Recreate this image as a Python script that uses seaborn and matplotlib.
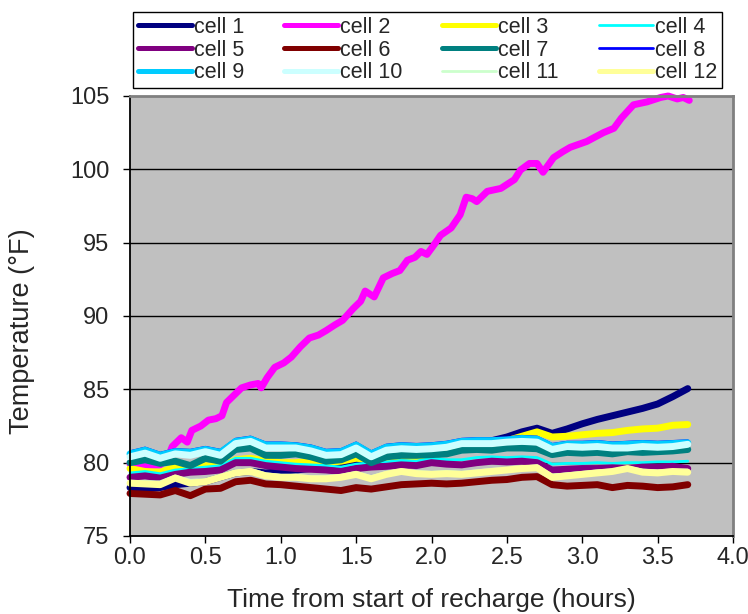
import matplotlib
matplotlib.use("Agg")
import matplotlib.pyplot as plt
import numpy as np
import pandas as pd
import seaborn as sns

# Sampling times (hours) shared by the cells that stay near ambient
hours = [0.0, 0.1, 0.2, 0.3, 0.4, 0.5, 0.6, 0.7, 0.8, 0.9,
         1.0, 1.1, 1.2, 1.3, 1.4, 1.5, 1.6, 1.7, 1.8, 1.9,
         2.0, 2.1, 2.2, 2.3, 2.4, 2.5, 2.6, 2.7, 2.8, 2.9,
         3.0, 3.1, 3.2, 3.3, 3.4, 3.5, 3.6, 3.7]

cell1 = [78.3, 78.2, 78.3, 78.5, 78.6, 78.7, 79.0, 79.3, 79.4, 79.3,
         79.4, 79.5, 79.6, 79.7, 79.8, 79.9, 80.0, 80.3, 80.35, 80.3,
         80.5, 80.7, 81.0, 81.3, 81.5, 81.75, 82.1, 82.35, 82.0, 82.3,
         82.65, 82.95, 83.2, 83.45, 83.7, 84.0, 84.5, 85.05]
cell3 = [79.6, 79.4, 79.35, 79.7, 79.5, 79.8, 79.7, 80.2, 80.3, 80.1,
         80.0, 80.0, 80.1, 80.0, 80.1, 80.3, 80.2, 80.3, 80.45, 80.4,
         80.5, 80.7, 80.95, 81.1, 81.3, 81.5, 81.8, 82.1, 81.75, 81.8,
         81.9, 82.0, 82.05, 82.2, 82.3, 82.35, 82.55, 82.6]
cell4 = [79.3, 79.4, 79.25, 79.5, 79.6, 79.7, 79.8, 80.3, 80.3, 80.1,
         80.0, 79.9, 79.85, 79.8, 79.7, 79.9, 80.0, 80.05, 80.15, 80.1,
         80.3, 80.2, 80.2, 80.35, 80.4, 80.35, 80.4, 80.35, 79.9, 79.95,
         79.95, 80.0, 79.95, 80.0, 80.0, 80.05, 80.05, 80.1]
cell5 = [79.0, 79.1, 78.95, 79.2, 79.35, 79.4, 79.5, 80.0, 80.0, 79.8,
         79.7, 79.6, 79.55, 79.5, 79.4, 79.6, 79.7, 79.75, 79.85, 79.8,
         80.0, 79.9, 79.85, 80.0, 80.1, 80.05, 80.1, 80.0, 79.5, 79.55,
         79.6, 79.6, 79.65, 79.6, 79.7, 79.7, 79.75, 79.6]
cell6 = [77.9, 77.85, 77.8, 78.1, 77.75, 78.2, 78.25, 78.7, 78.8, 78.55,
         78.5, 78.4, 78.3, 78.2, 78.1, 78.3, 78.2, 78.35, 78.5, 78.55,
         78.6, 78.55, 78.6, 78.7, 78.8, 78.85, 79.0, 79.05, 78.5, 78.4,
         78.45, 78.5, 78.3, 78.45, 78.4, 78.3, 78.35, 78.5]
cell7 = [80.0, 80.2, 79.95, 80.1, 79.8, 80.3, 80.1, 80.9, 81.0, 80.5,
         80.5, 80.6, 80.4, 80.1, 80.2, 80.6, 80.0, 80.4, 80.5, 80.5,
         80.55, 80.6, 80.85, 80.9, 80.85, 81.0, 81.0, 80.95, 80.55, 80.7,
         80.65, 80.7, 80.6, 80.75, 80.7, 80.75, 80.8, 80.9]
cell8 = [80.75, 81.0, 80.65, 80.9, 80.85, 81.05, 80.85, 81.6, 81.75, 81.35,
         81.35, 81.3, 81.15, 80.85, 80.9, 81.35, 80.75, 81.2, 81.3, 81.25,
         81.3, 81.4, 81.6, 81.65, 81.65, 81.7, 81.8, 81.75, 81.25, 81.4,
         81.4, 81.45, 81.35, 81.4, 81.45, 81.4, 81.45, 81.5]
cell9 = [80.6, 80.85, 80.5, 80.75, 80.7, 80.9, 80.7, 81.45, 81.6, 81.2,
         81.2, 81.15, 81.0, 80.7, 80.75, 81.2, 80.6, 81.05, 81.15, 81.1,
         81.15, 81.25, 81.45, 81.5, 81.5, 81.55, 81.65, 81.6, 81.1, 81.25,
         81.25, 81.3, 81.2, 81.25, 81.3, 81.25, 81.3, 81.35]
cell10 = [80.4, 80.65, 80.3, 80.6, 80.5, 80.75, 80.5, 81.3, 81.45, 81.0,
          81.0, 81.0, 80.8, 80.5, 80.55, 81.0, 80.4, 80.85, 80.95, 80.9,
          80.95, 81.05, 81.3, 81.3, 81.3, 81.4, 81.45, 81.4, 80.9, 81.1,
          81.05, 81.1, 81.0, 81.0, 81.1, 81.05, 81.1, 81.25]
cell11 = [78.75, 78.7, 78.7, 79.1, 78.8, 78.85, 79.15, 79.45, 79.55, 79.25,
          79.15, 79.15, 79.05, 79.05, 79.15, 79.35, 79.05, 79.35, 79.5, 79.4,
          79.35, 79.4, 79.35, 79.45, 79.55, 79.6, 79.7, 79.8, 79.15, 79.25,
          79.35, 79.45, 79.5, 79.7, 79.5, 79.45, 79.5, 79.5]
cell12 = [78.6, 78.55, 78.5, 78.95, 78.6, 78.7, 79.0, 79.3, 79.4, 79.1,
          79.0, 79.0, 78.9, 78.9, 79.0, 79.2, 78.9, 79.2, 79.4, 79.25,
          79.2, 79.25, 79.2, 79.3, 79.4, 79.5, 79.6, 79.65, 79.0, 79.1,
          79.2, 79.3, 79.4, 79.6, 79.35, 79.3, 79.4, 79.35]

# Cell 2 runs away thermally, so it is logged on its own time base
hours2 = [0.0, 0.1, 0.2, 0.25, 0.28, 0.34, 0.38, 0.41, 0.47, 0.52,
          0.57, 0.61, 0.64, 0.69, 0.74, 0.8, 0.85, 0.87, 0.91, 0.96,
          1.02, 1.07, 1.13, 1.19, 1.25, 1.30, 1.36, 1.41, 1.48, 1.53,
          1.56, 1.62, 1.68, 1.74, 1.79, 1.84, 1.89, 1.93, 1.97, 2.02,
          2.06, 2.13, 2.19, 2.23, 2.27, 2.30, 2.37, 2.46, 2.55, 2.59,
          2.65, 2.70, 2.74, 2.81, 2.87, 2.92, 3.03, 3.14, 3.21, 3.26,
          3.34, 3.43, 3.52, 3.57, 3.63, 3.67, 3.71]
cell2 = [79.9, 79.8, 79.85, 80.3, 81.1, 81.7, 81.4, 82.2, 82.5, 82.9,
         83.0, 83.2, 84.1, 84.6, 85.1, 85.3, 85.4, 85.1, 85.8, 86.5,
         86.8, 87.2, 87.9, 88.5, 88.7, 89.0, 89.4, 89.7, 90.5, 91.0,
         91.7, 91.3, 92.6, 92.9, 93.1, 93.8, 94.0, 94.4, 94.2, 94.9,
         95.5, 96.0, 96.9, 98.1, 98.0, 97.8, 98.5, 98.7, 99.3, 99.95,
         100.4, 100.4, 99.8, 100.8, 101.2, 101.5, 101.9, 102.5, 102.8, 103.5,
         104.4, 104.6, 104.9, 105.0, 104.8, 104.9, 104.7]

cell_names = ["cell 1", "cell 2", "cell 3", "cell 4", "cell 5", "cell 6",
              "cell 7", "cell 8", "cell 9", "cell 10", "cell 11", "cell 12"]
cell_colors = ["#000080", "#FF00FF", "#FFFF00", "#00FFFF", "#800080", "#800000",
               "#008080", "#0000FF", "#00CCFF", "#CCFFFF", "#CCFFCC", "#FFFF99"]
thick = [True, True, True, False, True, True, True, False, True, True, False, True]

x_ticks = [0.0, 0.5, 1.0, 1.5, 2.0, 2.5, 3.0, 3.5, 4.0]
y_ticks = [75, 80, 85, 90, 95, 100, 105]

series = {
    "cell 1": (hours, cell1), "cell 2": (hours2, cell2), "cell 3": (hours, cell3),
    "cell 4": (hours, cell4), "cell 5": (hours, cell5), "cell 6": (hours, cell6),
    "cell 7": (hours, cell7), "cell 8": (hours, cell8), "cell 9": (hours, cell9),
    "cell 10": (hours, cell10), "cell 11": (hours, cell11), "cell 12": (hours, cell12),
}
frames = [pd.DataFrame({"hours": t, "temp": v, "cell": name})
          for name, (t, v) in series.items()]
df = pd.concat(frames, ignore_index=True)

sns.set_style("white")
plt.rcParams["font.family"] = ["Liberation Sans", "DejaVu Sans"]

fig = plt.figure(figsize=(7.48, 6.14), dpi=100)
ax = fig.add_axes([130 / 748, 1 - 536 / 614, 603 / 748, 440 / 614])
ax.set_facecolor("#C0C0C0")

for name, color, is_thick in zip(cell_names, cell_colors, thick):
    sub = df[df["cell"] == name]
    sns.lineplot(data=sub, x="hours", y="temp", color=color,
                 linewidth=5.0 if is_thick else 2.0,
                 label=name, ax=ax, sort=False, estimator=None,
                 solid_joinstyle="round", solid_capstyle="round", clip_on=False)

ax.set_xlim(0, 4)
ax.set_ylim(75, 105)
ax.set_xticks(x_ticks)
ax.set_xticklabels([f"{v:.1f}" for v in x_ticks])
ax.set_yticks(y_ticks)
ax.set_yticklabels([str(v) for v in y_ticks])

for y in y_ticks[1:-1]:
    ax.axhline(y, color="black", lw=1.0, zorder=0.5)

for side in ("left", "bottom"):
    ax.spines[side].set_color("black")
    ax.spines[side].set_linewidth(1.3)
for side in ("top", "right"):
    ax.spines[side].set_color("#808080")
    ax.spines[side].set_linewidth(2.0)

ax.tick_params(axis="y", direction="out", length=5, width=1.0, pad=10,
               labelsize=17, left=True, color="black")
ax.tick_params(axis="x", direction="out", length=5, width=1.0, pad=3,
               labelsize=17, bottom=True, color="black")

ax.set_xlabel("Time from start of recharge (hours)", fontsize=19)
ax.set_ylabel("Temperature (°F)", fontsize=19.5)
ax.xaxis.set_label_coords(0.5, -0.118)
ax.yaxis.set_label_coords(-0.157, 0.466)

handles, labels = ax.get_legend_handles_labels()
ax.get_legend().remove()
order = [0, 4, 8, 1, 5, 9, 2, 6, 10, 3, 7, 11]
leg = fig.legend([handles[i] for i in order], [labels[i] for i in order],
                 loc="upper left",
                 bbox_to_anchor=(133 / 748, 1 - 88 / 614, 589 / 748, 76 / 614),
                 mode="expand", ncol=4, fontsize=15.5, frameon=True,
                 fancybox=False, framealpha=1, edgecolor="black",
                 handlelength=2.5, handletextpad=0.1, labelspacing=0.08,
                 borderpad=0.23, borderaxespad=0, columnspacing=1.0)
leg.get_frame().set_linewidth(1.0)
for line, i in zip(leg.get_lines(), order):
    line.set_linewidth(3.6 if thick[i] else 2.0)

fig.savefig("out.png", dpi=100, facecolor="white")
